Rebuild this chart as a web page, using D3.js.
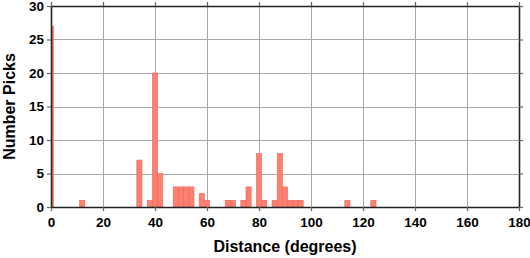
<!DOCTYPE html>
<html>
<head>
<meta charset="utf-8">
<script src="https://cdn.jsdelivr.net/npm/d3@7"></script>
<style>
  body { margin: 0; background: #fff; }
  text { font-family: "Liberation Sans", Arial, sans-serif; font-weight: bold; }
</style>
</head>
<body>
<svg id="chart" width="530" height="258"></svg>
<script>
// histogram bins (2 degree wide, centred on even degrees)
const binCenters = [0, 12, 34, 38, 40, 42, 48, 50, 52, 54, 58, 60, 68, 70, 74, 76, 80, 82, 86, 88, 90, 92, 94, 96, 114, 124];
const counts     = [27, 1, 7, 1, 20, 5, 3, 3, 3, 3, 2, 1, 1, 1, 1, 3, 8, 1, 1, 8, 3, 1, 1, 1, 1, 1];
const xTicks = [0, 20, 40, 60, 80, 100, 120, 140, 160, 180];
const yTicks = [0, 5, 10, 15, 20, 25, 30];
const binWidth = 2;

const svg = d3.select("#chart");
const plotL = 51, plotR = 519, plotT = 6, plotB = 207;

const x = d3.scaleLinear().domain([0, 180]).range([plotL, plotR]);
const y = d3.scaleLinear().domain([0, 30]).range([plotB, plotT]);

svg.append("clipPath").attr("id", "plotclip")
  .append("rect")
  .attr("x", plotL).attr("y", plotT)
  .attr("width", plotR - plotL).attr("height", plotB - plotT);

// grid
const grid = svg.append("g").attr("stroke", "#a8a8a8").attr("stroke-width", 1);
grid.selectAll(".gx")
  .data(xTicks.slice(1, -1))
  .enter().append("line")
  .attr("x1", d => Math.round(x(d)) + 0.5).attr("x2", d => Math.round(x(d)) + 0.5)
  .attr("y1", plotT).attr("y2", plotB);
grid.selectAll(".gy")
  .data(yTicks.slice(1, -1))
  .enter().append("line")
  .attr("x1", plotL).attr("x2", plotR)
  .attr("y1", d => Math.round(y(d)) + 0.5).attr("y2", d => Math.round(y(d)) + 0.5);

// bars
const data = binCenters.map((c, i) => ({ c: c, n: counts[i] }));
svg.append("g")
  .attr("clip-path", "url(#plotclip)")
  .selectAll("rect")
  .data(data)
  .enter().append("rect")
  .attr("x", d => x(d.c - binWidth / 2))
  .attr("width", d => x(d.c + binWidth / 2) - x(d.c - binWidth / 2))
  .attr("y", d => y(d.n))
  .attr("height", d => y(0) - y(d.n))
  .attr("fill", "#fa8072")
  .attr("stroke", "#f06656")
  .attr("stroke-width", 0.6);

// axes
const xAxis = svg.append("g")
  .attr("transform", `translate(0,${plotB})`)
  .call(d3.axisBottom(x).tickValues(xTicks).tickSize(4).tickPadding(6).tickSizeOuter(0));
const yAxis = svg.append("g")
  .attr("transform", `translate(${plotL},0)`)
  .call(d3.axisLeft(y).tickValues(yTicks).tickSize(4).tickPadding(3).tickSizeOuter(0));
const xTop = svg.append("g")
  .attr("transform", `translate(0,${plotT})`)
  .call(d3.axisTop(x).tickValues(xTicks).tickSize(4).tickFormat("").tickSizeOuter(0));
const yRight = svg.append("g")
  .attr("transform", `translate(${plotR},0)`)
  .call(d3.axisRight(y).tickValues(yTicks).tickSize(4).tickFormat("").tickSizeOuter(0));

[xAxis, yAxis, xTop, yRight].forEach(a => {
  a.select(".domain").attr("stroke", "#222").attr("stroke-width", 1.6);
  a.selectAll(".tick line").attr("stroke", "#666").attr("stroke-width", 1.2);
});
xAxis.selectAll("text").attr("font-size", 13.5).attr("fill", "#000");
yAxis.selectAll("text").attr("font-size", 13.5).attr("fill", "#000");

// titles
svg.append("text")
  .attr("x", (plotL + plotR) / 2)
  .attr("y", 252)
  .attr("text-anchor", "middle")
  .attr("font-size", 16)
  .text("Distance (degrees)");

svg.append("text")
  .attr("transform", `translate(14.5,${(plotT + plotB) / 2}) rotate(-90)`)
  .attr("text-anchor", "middle")
  .attr("font-size", 16)
  .text("Number Picks");
</script>
</body>
</html>
